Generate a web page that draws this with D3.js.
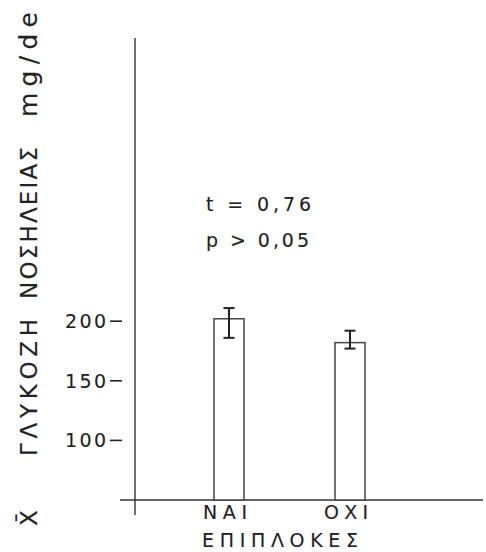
<!DOCTYPE html>
<meta charset="utf-8">
<script src="https://d3js.org/d3.v7.min.js"></script>
<title>Γλυκόζη νοσηλείας</title>
<style>
body { margin: 0; background: #fff; }
svg { font-family: "DejaVu Sans", sans-serif; fill: #222; }
svg text { stroke: #222; stroke-width: 0.12px; }
</style>
<svg width="486" height="552"></svg>
<script>

// data
var categories = ["ΝΑΙ", "ΟΧΙ"];
var means = [202, 182];
var errLow = [186, 177];
var errHigh = [211, 192];
var yTicks = [100, 150, 200];
var statLines = ["t = 0,76", "p > 0,05"];
var xTitle = "ΕΠΙΠΛΟΚΕΣ";
var yTitle = ["X\u0304", "ΓΛΥΚΟΖΗ", "ΝΟΣΗΛΕΙΑΣ", "mg/de"];

var svg = d3.select("svg");
var ink = "#222";

var y = d3.scaleLinear().domain([50, 437.5]).range([500, 38]);
var x = d3.scalePoint().domain(categories).range([229, 350]);
var barW = 30;

// axes lines
svg.append("line")
    .attr("x1", 135).attr("x2", 135)
    .attr("y1", y(437.5)).attr("y2", 515)
    .attr("stroke", "#333").attr("stroke-width", 1.4);
svg.append("line")
    .attr("x1", 120).attr("x2", 483)
    .attr("y1", y(50)).attr("y2", y(50))
    .attr("stroke", "#333").attr("stroke-width", 1.6);

// y ticks: label then a short dash, detached from the axis
var tick = svg.selectAll("g.tick")
  .data(yTicks)
  .join("g")
    .attr("class", "tick")
    .attr("transform", d => "translate(0," + y(d) + ")");
tick.append("text")
    .attr("x", 106)
    .attr("dy", "0.36em")
    .attr("text-anchor", "end")
    .attr("font-size", 19)
    .attr("textLength", 41)
    .attr("lengthAdjust", "spacing")
    .attr("fill", ink)
    .text(d => d);
tick.append("line")
    .attr("x1", 110).attr("x2", 122)
    .attr("stroke", ink).attr("stroke-width", 1.6);

// bars
svg.selectAll("rect.bar")
  .data(categories)
  .join("rect")
    .attr("class", "bar")
    .attr("x", d => x(d) - barW / 2)
    .attr("y", (d, i) => y(means[i]))
    .attr("width", barW)
    .attr("height", (d, i) => y(50) - y(means[i]))
    .attr("fill", "#fff")
    .attr("stroke", "#444")
    .attr("stroke-width", 1.5);

// error bars
var err = svg.selectAll("g.err")
  .data(categories)
  .join("g")
    .attr("class", "err");
err.append("line")
    .attr("x1", d => x(d)).attr("x2", d => x(d))
    .attr("y1", (d, i) => y(errHigh[i])).attr("y2", (d, i) => y(errLow[i]))
    .attr("stroke", ink).attr("stroke-width", 2);
err.append("line")
    .attr("x1", d => x(d) - 5.5).attr("x2", d => x(d) + 5.5)
    .attr("y1", (d, i) => y(errHigh[i])).attr("y2", (d, i) => y(errHigh[i]))
    .attr("stroke", ink).attr("stroke-width", 2);
err.append("line")
    .attr("x1", d => x(d) - 5.5).attr("x2", d => x(d) + 5.5)
    .attr("y1", (d, i) => y(errLow[i])).attr("y2", (d, i) => y(errLow[i]))
    .attr("stroke", ink).attr("stroke-width", 2);

// category labels
svg.selectAll("text.cat")
  .data(categories)
  .join("text")
    .attr("class", "cat")
    .attr("x", d => x(d) - 26)
    .attr("y", 519)
    .attr("font-size", 19)
    .attr("textLength", 44)
    .attr("lengthAdjust", "spacing")
    .attr("fill", ink)
    .text(d => d);

svg.append("text")
    .attr("x", 202)
    .attr("y", 547)
    .attr("font-size", 19)
    .attr("textLength", 156)
    .attr("lengthAdjust", "spacing")
    .attr("fill", ink)
    .text(xTitle);

// t-test annotation
svg.selectAll("text.stat")
  .data(statLines)
  .join("text")
    .attr("class", "stat")
    .attr("x", 206)
    .attr("y", (d, i) => 211 + i * 36)
    .attr("font-size", 19)
    .attr("textLength", (d, i) => i ? 103 : 105)
    .attr("lengthAdjust", "spacing")
    .attr("fill", ink)
    .text(d => d);

// rotated y title, in pieces so the wide lettering lines up
var spans = [[526, 15], [456, 137], [299, 152], [117, 105]];
svg.selectAll("text.ytitle")
  .data(yTitle)
  .join("text")
    .attr("class", "ytitle")
    .attr("transform", (d, i) => "translate(37," + spans[i][0] + ") rotate(-90)")
    .attr("font-size", (d, i) => i === 3 ? 25 : 23)
    .attr("textLength", (d, i) => spans[i][1])
    .attr("lengthAdjust", "spacing")
    .attr("fill", ink)
    .text(d => d);

</script>
